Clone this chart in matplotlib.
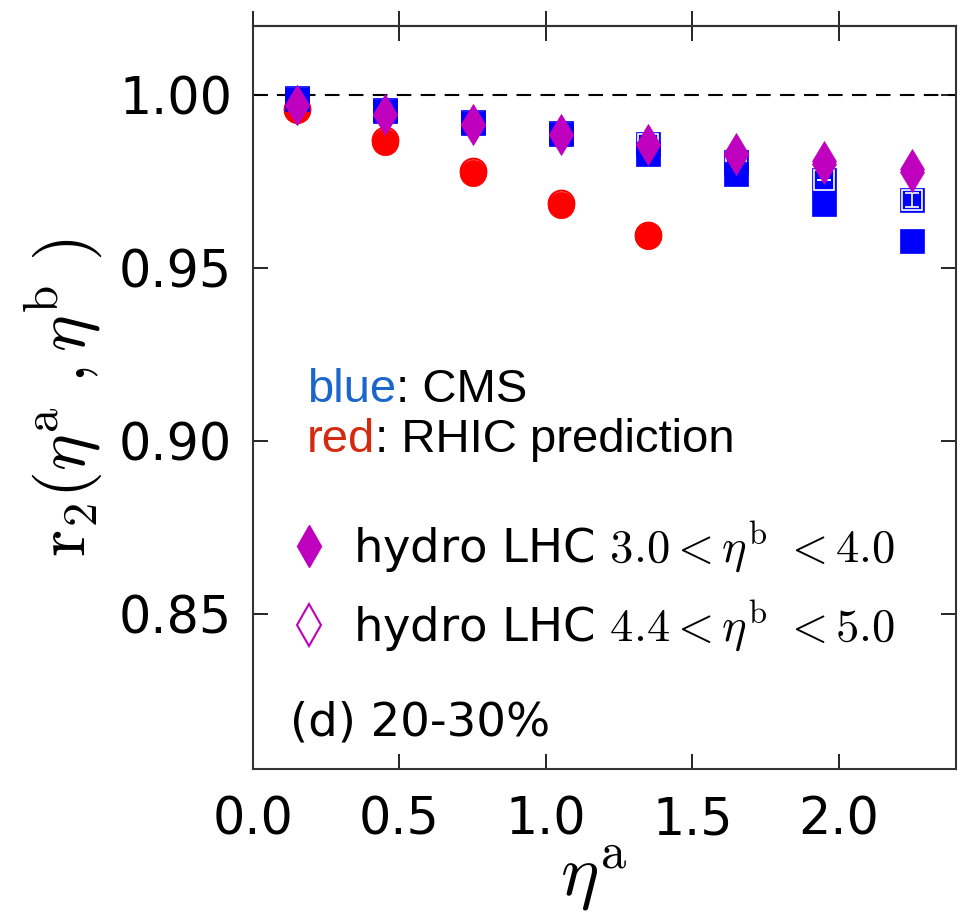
import numpy as np
import matplotlib
matplotlib.use('Agg')
import matplotlib.pyplot as plt
from matplotlib.lines import Line2D

plt.rcParams['mathtext.fontset'] = 'cm'
plt.rcParams['font.family'] = 'DejaVu Sans'

# eta^a bin centres
eta_a = [0.15, 0.45, 0.75, 1.05, 1.35, 1.65, 1.95, 2.25]

# CMS data (blue squares)
cms_34 = [0.9990, 0.9954, 0.9919, 0.9887, 0.9830, 0.9772, 0.9685, 0.9578]
cms_45 = [0.9991, 0.9957, 0.9922, 0.9890, 0.9858, 0.9806, 0.9754, 0.9697]
cms_45_err = [0.0, 0.0, 0.0, 0.0, 0.0, 0.0, 0.0, 0.0020]

# RHIC prediction (red circles), first five bins only
eta_a_rhic = [0.15, 0.45, 0.75, 1.05, 1.35]
rhic_34 = [0.9957, 0.9864, 0.9775, 0.9682, 0.9592]
rhic_45 = [0.9960, 0.9869, 0.9781, 0.9688, 0.9595]

# hydro LHC (magenta diamonds)
hydro_34 = [0.9971, 0.9942, 0.9913, 0.9884, 0.9855, 0.9827, 0.9800, 0.9778]
hydro_45 = [0.9972, 0.9944, 0.9916, 0.9888, 0.9860, 0.9834, 0.9809, 0.9787]

legend_labels = [r'hydro LHC $3.0<\eta^{\rm b}\ <4.0$',
                 r'hydro LHC $4.4<\eta^{\rm b}\ <5.0$']

blue = '#0000ff'
red = '#ff0000'
mag = '#bf00bf'

fig = plt.figure(figsize=(9.58, 9.23), dpi=100)
ax = fig.add_axes([0.2641, 0.1668, 0.7339, 0.8050])

ax.axhline(1.0, color='k', lw=1.5, dashes=(7, 4.5), zorder=1)

# red: open first, filled on top
ax.plot(eta_a_rhic, rhic_45, 'o', ms=19, color=red, mec=red, mew=1, zorder=2)
ax.plot(eta_a_rhic, rhic_45, 'o', ms=16, mfc=red, mec='white', mew=1, zorder=2)
ax.plot(eta_a_rhic, rhic_34, 'o', ms=19, color=red, mec=red, mew=0.5, zorder=3)

# blue: open first, filled on top
ax.plot(eta_a, cms_45, 's', ms=17, color=blue, mec=blue, mew=0.5, zorder=4)
ax.plot(eta_a, cms_45, 's', ms=14.5, mfc=blue, mec='white', mew=1.2, zorder=4)
ax.errorbar(eta_a, cms_45, yerr=cms_45_err, fmt='none', ecolor='white',
            elinewidth=1.2, capsize=5, capthick=1.2, zorder=4.5)
ax.plot(eta_a, cms_34, 's', ms=17, color=blue, mec=blue, mew=0.5, zorder=5)

# diamonds
ax.plot(eta_a, hydro_45, 'd', ms=20, color=mag, mec=mag, mew=0.5, zorder=7)
ax.plot(eta_a, hydro_34, 'd', ms=20, color=mag, mec=mag, mew=0.5, zorder=8)

ax.set_xlim(0, 2.4)
ax.set_ylim(0.805, 1.02)
ax.set_xticks([0.0, 0.5, 1.0, 1.5, 2.0])
ax.set_xticklabels(['0.0', '0.5', '1.0', '1.5', '2.0'])
ax.set_yticks([0.85, 0.90, 0.95, 1.00])
ax.set_yticklabels(['0.85', '0.90', '0.95', '1.00'])

ax.tick_params(axis='both', direction='in', length=11, width=1.2,
               labelsize=36.5, colors='k')
ax.tick_params(axis='x', pad=19)
ax.tick_params(axis='y', pad=15, right=True)

top = ax.secondary_xaxis('top')
top.set_xticks([0.0, 0.5, 1.0, 1.5, 2.0])
top.tick_params(direction='inout', length=22, width=1.2, labeltop=False)
top.spines['top'].set_linewidth(1.5)

for sp in ax.spines.values():
    sp.set_linewidth(1.5)
    sp.set_color('#333333')

ax.set_xlabel(r'$\eta^{\rm a}$', fontsize=52, labelpad=0)
ax.xaxis.set_label_coords(0.485, -0.1, transform=ax.transAxes)
ax.xaxis.label.set_va('top')
ax.set_ylabel(r'$\rm r_2(\eta^{\rm a}\ ,\eta^{\rm b}\ )$', fontsize=50, labelpad=10)

# colour key text
fig.canvas.draw()
renderer = fig.canvas.get_renderer()


def colored_line(x, y, parts):
    for s, c in parts:
        t = ax.text(x, y, s, color=c, fontsize=34, family='Liberation Sans',
                    transform=None)
        bb = t.get_window_extent(renderer=renderer)
        x = bb.x1


colored_line(307, 923 - 402, [('blue', '#1a66cc'), (': CMS', 'k')])
colored_line(307, 923 - 452, [('red', '#d42a10'), (': RHIC prediction', 'k')])

handles = [
    Line2D([], [], ls='none', marker='d', ms=21, color=mag, mec=mag),
    Line2D([], [], ls='none', marker='d', ms=21, mfc='white', mec=mag, mew=1.5),
]
ax.legend(handles, legend_labels, loc='upper left', bbox_to_anchor=(0.02, 0.36),
          frameon=False, fontsize=33.5, numpoints=1, handlelength=1.0,
          handletextpad=0.45, labelspacing=0.5, borderaxespad=0)

ax.text(290, 923 - 735, '(d) 20-30%', fontsize=33.5, transform=None)

fig.savefig('out.png', dpi=100)
